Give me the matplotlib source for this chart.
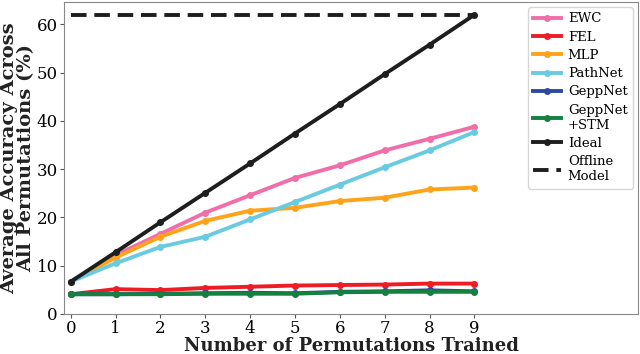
import numpy as np
import matplotlib
matplotlib.use("Agg")
import matplotlib.pyplot as plt

perms = list(range(10))
ewc = [6.7, 12.2, 16.6, 21.0, 24.6, 28.2, 30.8, 33.9, 36.3, 38.8]
fel = [4.1, 5.15, 4.95, 5.4, 5.65, 5.9, 6.0, 6.1, 6.3, 6.3]
mlp = [6.7, 11.7, 16.0, 19.3, 21.4, 22.0, 23.4, 24.1, 25.8, 26.2]
pathnet = [6.7, 10.5, 13.9, 16.0, 19.6, 23.2, 26.8, 30.4, 33.9, 37.7]
geppnet = [4.1, 4.1, 4.2, 4.3, 4.4, 4.3, 4.6, 4.7, 4.9, 4.7]
geppnet_stm = [4.1, 4.1, 4.1, 4.2, 4.2, 4.2, 4.5, 4.6, 4.6, 4.6]
ideal = [6.7, 12.8, 19.0, 25.1, 31.2, 37.4, 43.5, 49.7, 55.8, 62.0]
offline = 62.0

plt.rcParams["font.family"] = "DejaVu Serif"

fig, ax = plt.subplots(figsize=(6.4, 3.54), dpi=100)

series = [
    ("EWC", ewc, "#f26ea9"),
    ("FEL", fel, "#ee1c25"),
    ("MLP", mlp, "#ffa31a"),
    ("PathNet", pathnet, "#6acbe0"),
    ("GeppNet", geppnet, "#2b4aa0"),
    ("GeppNet\n+STM", geppnet_stm, "#158040"),
    ("Ideal", ideal, "#1e1e1e"),
]
for name, vals, col in series:
    ax.plot(perms, vals, color=col, lw=2.8, marker="o", ms=4, label=name)
ax.plot([perms[0], perms[-1]], [offline, offline], color="#1e1e1e", lw=2.8,
        ls=(0, (4, 2)), label="Offline\nModel")

ax.set_xlim(-0.15, 12.65)
ax.set_ylim(0, 64.7)
ax.set_xticks(perms)
ax.set_yticks([0, 10, 20, 30, 40, 50, 60])
ax.tick_params(labelsize=12, color="#555555", length=3, pad=1.5)
for s in ax.spines.values():
    s.set_color("#888888")

ax.set_xlabel("Number of Permutations Trained", fontsize=13, fontweight="bold",
              color="#222222", labelpad=-0.5)
ax.set_ylabel("Average Accuracy Across\nAll Permutations (%)", fontsize=14,
              fontweight="bold", color="#222222", labelpad=1, linespacing=0.95)

ax.legend(loc="upper right", fontsize=9.5, handlelength=2.1, labelspacing=0.4,
          borderaxespad=0.4, handletextpad=0.5)

plt.subplots_adjust(left=0.1, right=0.997, top=0.995, bottom=0.113)
plt.savefig("out.png", dpi=100)
